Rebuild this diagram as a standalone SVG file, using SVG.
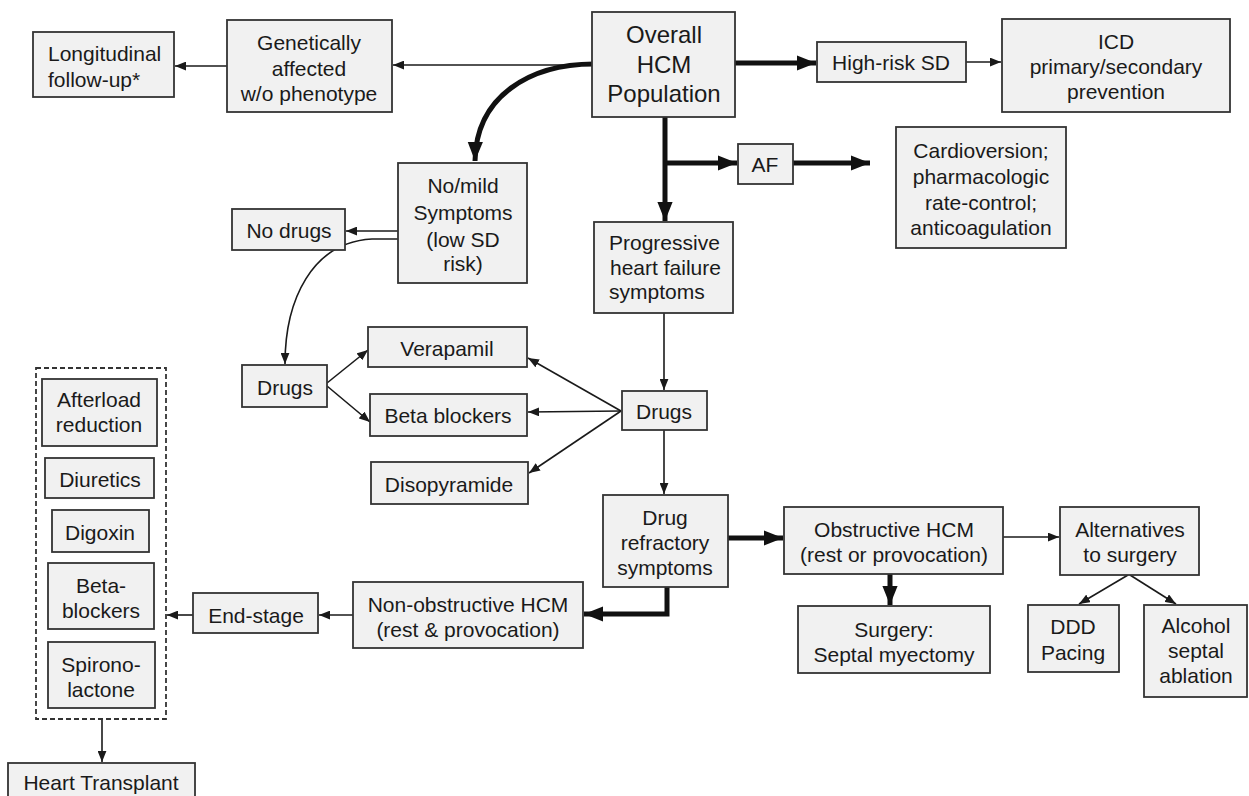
<svg xmlns="http://www.w3.org/2000/svg" width="1249" height="796" viewBox="0 0 1249 796">
  <defs>
    <marker id="head" viewBox="0 0 10 8" markerUnits="userSpaceOnUse" markerWidth="11" markerHeight="9" refX="10" refY="4" orient="auto">
      <path d="M0,0 L10,4 L0,8 z" fill="#1a1a1a"/>
    </marker>
    <marker id="headBold" viewBox="0 0 10 8" markerUnits="userSpaceOnUse" markerWidth="19" markerHeight="16" refX="10" refY="4" orient="auto">
      <path d="M0,0 L10,4 L0,8 z" fill="#111"/>
    </marker>
    <style>
      .box { fill: #f1f1f1; stroke: #333; stroke-width: 1.8; }
      .group { fill: none; stroke: #333; stroke-width: 1.8; stroke-dasharray: 5 3; }
      text { font-family: "Liberation Sans", Arial, sans-serif; font-size: 21px; fill: #1a1a1a; text-anchor: middle; }
      .left { text-anchor: start; }
      .big { font-size: 24px; }
      .thin { fill: none; stroke: #1a1a1a; stroke-width: 1.6; marker-end: url(#head); }
      .thick { fill: none; stroke: #111; stroke-width: 5; marker-end: url(#headBold); }
    </style>
  </defs>
  <rect width="1249" height="796" fill="#ffffff"/>

  <!-- connectors -->
  <g id="connectors">
    <path class="thin" d="M592,65 L393,65"/>
    <path class="thin" d="M227,66 L175,66"/>
    <path class="thick" d="M594,64 C530,64 476,96 475,161"/>
    <path class="thick" d="M735,63 L816,63"/>
    <path class="thin" d="M966,62 L1001,62"/>
    <path class="thick" d="M665,117 L665,221"/>
    <path class="thick" d="M665,163 L737,163"/>
    <path class="thick" d="M793,163 L870,163"/>
    <path class="thin" d="M398,231 L346,231"/>
    <path class="thin" d="M398,239 L372,239 C312,242 285,300 285,364"/>
    <path class="thin" d="M327,383 L368,350"/>
    <path class="thin" d="M327,386 L370,422"/>
    <path class="thin" d="M664,313 L664,390"/>
    <path class="thin" d="M621,411 L528,358"/>
    <path class="thin" d="M621,411 L528,412"/>
    <path class="thin" d="M621,411 L529,473"/>
    <path class="thin" d="M664,430 L664,494"/>
    <path class="thick" d="M728,538 L783,538"/>
    <path class="thick" d="M890,574 L890,605"/>
    <path class="thick" d="M667,587 L667,614 L584,614"/>
    <path class="thin" d="M353,615 L319,615"/>
    <path class="thin" d="M193,615 L167,615"/>
    <path class="thin" d="M102,719 L102,762"/>
    <path class="thin" d="M1003,537 L1059,537"/>
    <path class="thin" d="M1128,575 L1079,604"/>
    <path class="thin" d="M1130,575 L1176,604"/>
  </g>

  <g id="longitudinal">
    <rect class="box" x="33" y="32" width="141" height="65"/>
    <text class="left" x="48" y="61">Longitudinal</text>
    <text class="left" x="48" y="87">follow-up*</text>
  </g>

  <g id="genetically-affected">
    <rect class="box" x="227" y="20" width="165" height="92"/>
    <text x="309" y="50">Genetically</text>
    <text x="309" y="76">affected</text>
    <text x="309" y="101">w/o phenotype</text>
  </g>

  <g id="overall">
    <rect class="box" x="592" y="12" width="143" height="105"/>
    <text class="big" x="664" y="43">Overall</text>
    <text class="big" x="664" y="73">HCM</text>
    <text class="big" x="664" y="102">Population</text>
  </g>

  <g id="high-risk">
    <rect class="box" x="817" y="42" width="149" height="40"/>
    <text x="891" y="70">High-risk SD</text>
  </g>

  <g id="icd">
    <rect class="box" x="1002" y="19" width="228" height="93"/>
    <text x="1116" y="49">ICD</text>
    <text x="1116" y="74">primary/secondary</text>
    <text x="1116" y="99">prevention</text>
  </g>

  <g id="af">
    <rect class="box" x="738" y="144" width="55" height="40"/>
    <text x="765" y="172">AF</text>
  </g>

  <g id="cardioversion">
    <rect class="box" x="896" y="127" width="170" height="121"/>
    <text x="981" y="158">Cardioversion;</text>
    <text x="981" y="184">pharmacologic</text>
    <text x="981" y="210">rate-control;</text>
    <text x="981" y="235">anticoagulation</text>
  </g>

  <g id="no-mild">
    <rect class="box" x="398" y="163" width="129" height="120"/>
    <text x="463" y="193">No/mild</text>
    <text x="463" y="220">Symptoms</text>
    <text x="463" y="247">(low SD</text>
    <text x="463" y="271">risk)</text>
  </g>

  <g id="no-drugs">
    <rect class="box" x="232" y="209" width="113" height="41"/>
    <text x="289" y="238">No drugs</text>
  </g>

  <g id="progressive">
    <rect class="box" x="594" y="222" width="139" height="91"/>
    <text class="left" x="609" y="250">Progressive</text>
    <text class="left" x="610" y="275">heart failure</text>
    <text class="left" x="609" y="299">symptoms</text>
  </g>

  <g id="drugs-left">
    <rect class="box" x="242" y="365" width="85" height="42"/>
    <text x="285" y="395">Drugs</text>
  </g>

  <g id="verapamil">
    <rect class="box" x="368" y="327" width="159" height="40"/>
    <text x="447" y="356">Verapamil</text>
  </g>

  <g id="beta-blockers">
    <rect class="box" x="370" y="394" width="157" height="42"/>
    <text x="448" y="423">Beta blockers</text>
  </g>

  <g id="disopyramide">
    <rect class="box" x="371" y="462" width="157" height="42"/>
    <text x="449" y="492">Disopyramide</text>
  </g>

  <g id="drugs-right">
    <rect class="box" x="622" y="391" width="85" height="39"/>
    <text x="664" y="419">Drugs</text>
  </g>

  <g id="drug-refractory">
    <rect class="box" x="603" y="495" width="125" height="92"/>
    <text x="665" y="525">Drug</text>
    <text x="665" y="550">refractory</text>
    <text x="665" y="575">symptoms</text>
  </g>

  <g id="obstructive">
    <rect class="box" x="784" y="507" width="219" height="67"/>
    <text x="894" y="537">Obstructive HCM</text>
    <text x="894" y="562">(rest or provocation)</text>
  </g>

  <g id="surgery">
    <rect class="box" x="798" y="606" width="192" height="67"/>
    <text x="894" y="637">Surgery:</text>
    <text x="894" y="662">Septal myectomy</text>
  </g>

  <g id="alternatives">
    <rect class="box" x="1060" y="507" width="139" height="68"/>
    <text x="1130" y="537">Alternatives</text>
    <text x="1130" y="562">to surgery</text>
  </g>

  <g id="ddd-pacing">
    <rect class="box" x="1028" y="605" width="91" height="67"/>
    <text x="1073" y="634">DDD</text>
    <text x="1073" y="660">Pacing</text>
  </g>

  <g id="alcohol-ablation">
    <rect class="box" x="1144" y="605" width="103" height="92"/>
    <text x="1196" y="633">Alcohol</text>
    <text x="1196" y="658">septal</text>
    <text x="1196" y="683">ablation</text>
  </g>

  <g id="non-obstructive">
    <rect class="box" x="353" y="582" width="230" height="66"/>
    <text x="468" y="612">Non-obstructive HCM</text>
    <text x="468" y="637">(rest &amp; provocation)</text>
  </g>

  <g id="end-stage">
    <rect class="box" x="193" y="593" width="125" height="40"/>
    <text x="256" y="623">End-stage</text>
  </g>

  <g id="end-stage-therapy">
    <rect class="group" x="36" y="368" width="130" height="351"/>
    <g id="afterload">
      <rect class="box" x="42" y="379" width="115" height="67"/>
      <text x="99" y="407">Afterload</text>
      <text x="99" y="432">reduction</text>
    </g>
    <g id="diuretics">
      <rect class="box" x="45" y="458" width="109" height="40"/>
      <text x="100" y="487">Diuretics</text>
    </g>
    <g id="digoxin">
      <rect class="box" x="52" y="510" width="97" height="42"/>
      <text x="100" y="540">Digoxin</text>
    </g>
    <g id="beta-blockers-hf">
      <rect class="box" x="48" y="563" width="106" height="66"/>
      <text x="101" y="593">Beta-</text>
      <text x="101" y="618">blockers</text>
    </g>
    <g id="spironolactone">
      <rect class="box" x="48" y="642" width="107" height="66"/>
      <text x="101" y="672">Spirono-</text>
      <text x="101" y="697">lactone</text>
    </g>
  </g>

  <g id="heart-transplant">
    <rect class="box" x="8" y="763" width="187" height="45"/>
    <text x="101" y="790">Heart Transplant</text>
  </g>
</svg>
